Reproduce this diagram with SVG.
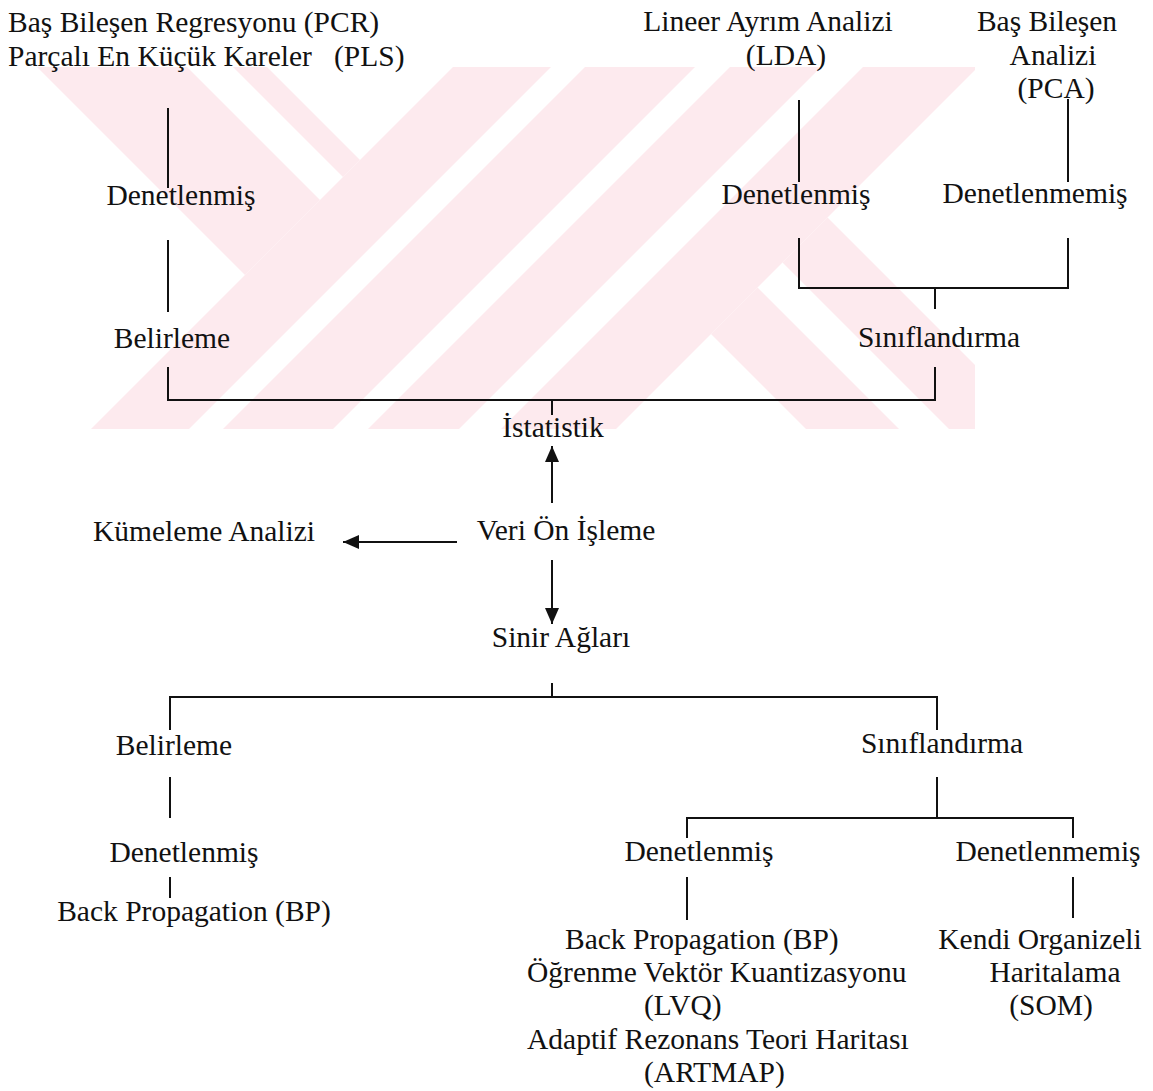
<svg xmlns="http://www.w3.org/2000/svg" width="1153" height="1091" viewBox="0 0 1153 1091">
<defs>
<style>
.t{font-family:"Liberation Serif","Times New Roman",serif;font-size:29.5px;fill:#111;white-space:pre}
.m{text-anchor:middle}
.c{stroke:#111;stroke-width:2;fill:none}
.wm{fill:#fdeaee}
</style>
<marker id="ah" viewBox="0 0 16 14" refX="16" refY="7" markerWidth="16" markerHeight="14" markerUnits="userSpaceOnUse" orient="auto"><path d="M0,0L16,7L0,14z" fill="#111"/></marker>
</defs>
<rect width="1153" height="1091" fill="#fff"/>
<g id="watermark" class="wm">
<polygon points="37,67 187,67 320,200 245,275"/>
<polygon points="233,67 267,67 360,160 343,177"/>
<polygon points="453,67 551,67 189,429 91,429"/>
<polygon points="585,67 695,67 333,429 223,429"/>
<polygon points="730,67 821,67 459,429 368,429"/>
<polygon points="863,67 975,67 975,70 616,429 501,429"/>
<polygon points="711,334 757.5,287.5 899,429 806,429"/>
<polygon points="782.5,262.5 827.5,217.5 975,365 975,429 949,429"/>
</g>
<g id="connectors">
<path class="c" d="M168,108V188M168,240V312M168,367V400H935V367M552,400V415"/>
<path class="c" d="M799,100V182M1068,99V182M799,238V288H1068V238M935,288V309"/>
<path class="c" d="M552,503V446" marker-end="url(#ah)"/>
<path class="c" d="M457,542H343" marker-end="url(#ah)"/>
<path class="c" d="M552,560V624" marker-end="url(#ah)"/>
<path class="c" d="M552,683V697M170,730V697H937V730"/>
<path class="c" d="M170,777V818M170,877V898"/>
<path class="c" d="M937,777V818M687,838V818H1073V838M687,877V920M1073,877V918"/>
</g>
<g id="n-pcr-pls"><text class="t" x="8" y="32">Baş Bileşen Regresyonu (PCR)</text><text class="t" x="8" y="66">Parçalı En Küçük Kareler   (PLS)</text></g>
<g id="n-lda"><text class="t m" x="768" y="31">Lineer Ayrım Analizi</text><text class="t m" x="786" y="65">(LDA)</text></g>
<g id="n-pca"><text class="t m" x="1047" y="31">Baş Bileşen</text><text class="t m" x="1053" y="65">Analizi</text><text class="t m" x="1056" y="98">(PCA)</text></g>
<g id="n-st-den-left"><text class="t m" x="181" y="205">Denetlenmiş</text></g>
<g id="n-st-den-right"><text class="t m" x="796" y="204">Denetlenmiş</text></g>
<g id="n-st-denmem"><text class="t m" x="1035" y="203">Denetlenmemiş</text></g>
<g id="n-st-belirleme"><text class="t m" x="172" y="348">Belirleme</text></g>
<g id="n-st-sinif"><text class="t m" x="939" y="347">Sınıflandırma</text></g>
<g id="n-istatistik"><text class="t m" x="553" y="437">İstatistik</text></g>
<g id="n-veri"><text class="t m" x="566" y="540">Veri Ön İşleme</text></g>
<g id="n-kumeleme"><text class="t m" x="204" y="541">Kümeleme Analizi</text></g>
<g id="n-sinir"><text class="t m" x="561" y="647">Sinir Ağları</text></g>
<g id="n-nn-belirleme"><text class="t m" x="174" y="755">Belirleme</text></g>
<g id="n-nn-sinif"><text class="t m" x="942" y="753">Sınıflandırma</text></g>
<g id="n-nn-den-left"><text class="t m" x="184" y="862">Denetlenmiş</text></g>
<g id="n-nn-bp-left"><text class="t m" x="194" y="921">Back Propagation (BP)</text></g>
<g id="n-nn-den-mid"><text class="t m" x="699" y="861">Denetlenmiş</text></g>
<g id="n-nn-denmem"><text class="t m" x="1048" y="861">Denetlenmemiş</text></g>
<g id="n-nn-methods"><text class="t" x="565" y="949">Back Propagation (BP)</text><text class="t" x="527" y="982">Öğrenme Vektör Kuantizasyonu</text><text class="t" x="644" y="1015">(LVQ)</text><text class="t" x="527" y="1049">Adaptif Rezonans Teori Haritası</text><text class="t" x="644" y="1082">(ARTMAP)</text></g>
<g id="n-nn-som"><text class="t m" x="1040" y="949">Kendi Organizeli</text><text class="t m" x="1055" y="982">Haritalama</text><text class="t m" x="1051" y="1015">(SOM)</text></g>
</svg>
